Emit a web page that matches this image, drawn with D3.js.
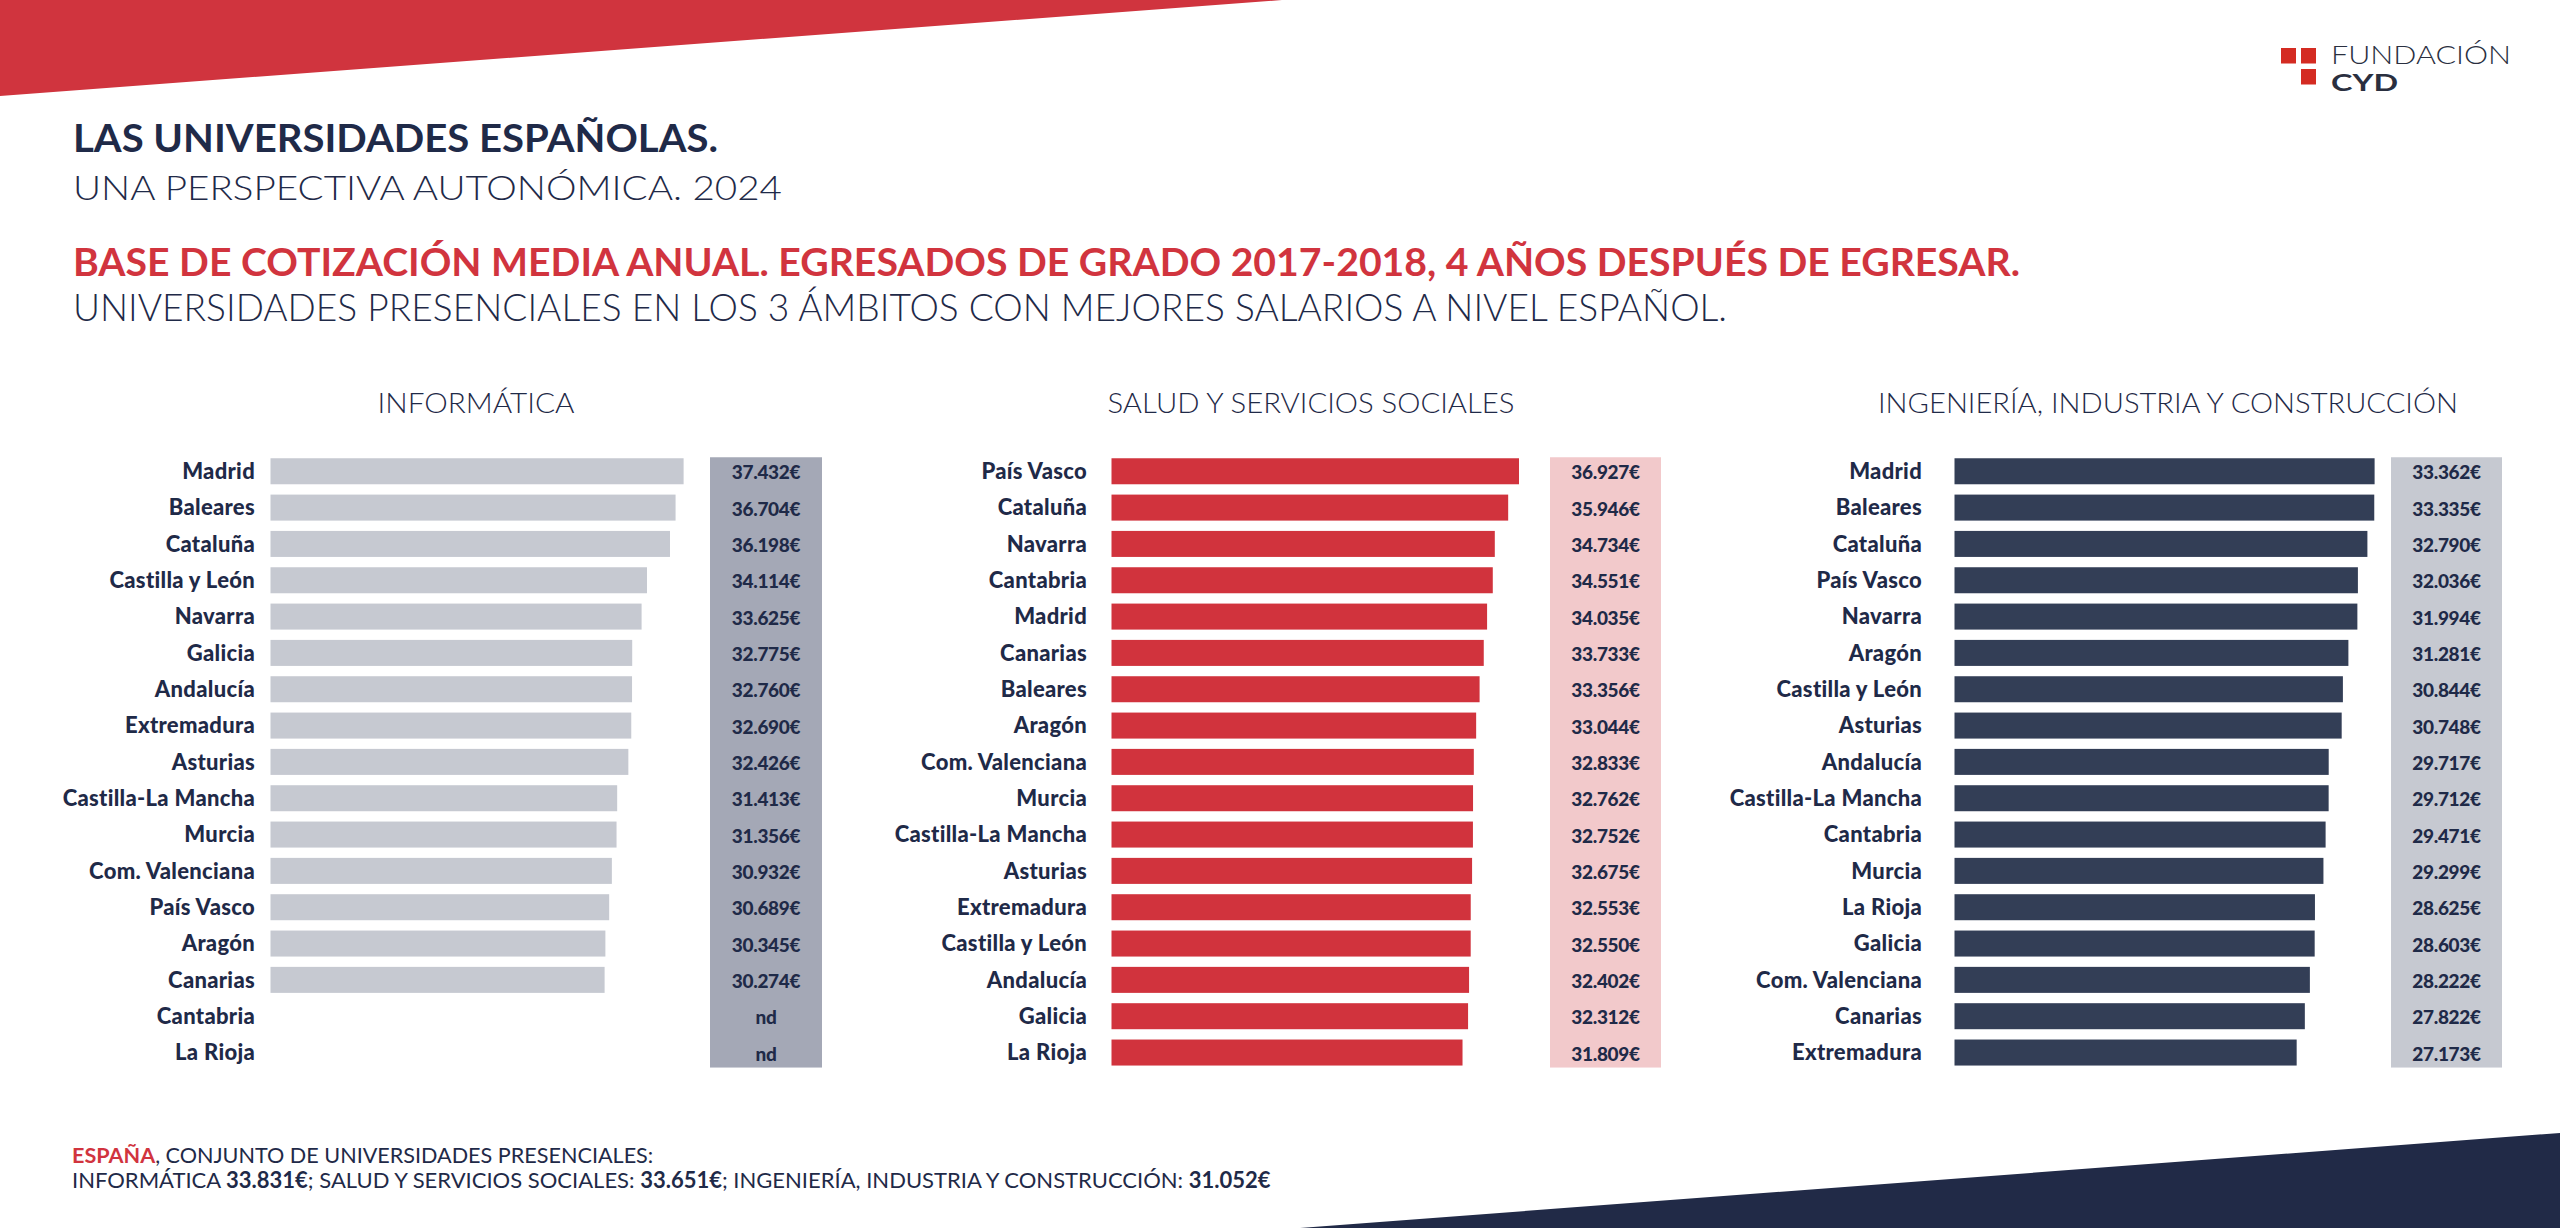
<!DOCTYPE html>
<html>
<head>
<meta charset="utf-8">
<script src="https://cdn.jsdelivr.net/npm/d3@7"></script>
<style>
  html, body { margin: 0; padding: 0; background: #ffffff; }
  svg { display: block; }
  text { font-family: Lato, "Open Sans", sans-serif; }
</style>
</head>
<body>
<svg id="chart" width="2560" height="1228"></svg>
<script>
// ---------- DATA ----------
const panelTitles = ["INFORMÁTICA", "SALUD Y SERVICIOS SOCIALES", "INGENIERÍA, INDUSTRIA Y CONSTRUCCIÓN"];

const infCategories = ["Madrid","Baleares","Cataluña","Castilla y León","Navarra","Galicia","Andalucía","Extremadura","Asturias","Castilla-La Mancha","Murcia","Com. Valenciana","País Vasco","Aragón","Canarias","Cantabria","La Rioja"];
const infValues = [37432,36704,36198,34114,33625,32775,32760,32690,32426,31413,31356,30932,30689,30345,30274,null,null];

const salCategories = ["País Vasco","Cataluña","Navarra","Cantabria","Madrid","Canarias","Baleares","Aragón","Com. Valenciana","Murcia","Castilla-La Mancha","Asturias","Extremadura","Castilla y León","Andalucía","Galicia","La Rioja"];
const salValues = [36927,35946,34734,34551,34035,33733,33356,33044,32833,32762,32752,32675,32553,32550,32402,32312,31809];

const ingCategories = ["Madrid","Baleares","Cataluña","País Vasco","Navarra","Aragón","Castilla y León","Asturias","Andalucía","Castilla-La Mancha","Cantabria","Murcia","La Rioja","Galicia","Com. Valenciana","Canarias","Extremadura"];
const ingValues = [33362,33335,32790,32036,31994,31281,30844,30748,29717,29712,29471,29299,28625,28603,28222,27822,27173];

const spainLabels = ["INFORMÁTICA", "SALUD Y SERVICIOS SOCIALES", "INGENIERÍA, INDUSTRIA Y CONSTRUCCIÓN"];
const spainValues = [33831, 33651, 31052];

// ---------- STYLE / LAYOUT ----------
const NAVY = "#1f2a48";
const RED = "#d1343e";
const svg = d3.select("#chart");

const locale = d3.formatLocale({decimal: ",", thousands: ".", grouping: [3], currency: ["", "€"]});
const fmt = v => v == null ? "nd" : locale.format(",")(v) + "€";

// background shapes
svg.append("polygon").attr("points", "0,0 1282,0 0,96").attr("fill", "#d0343e");
svg.append("polygon").attr("points", "1300,1228 2560,1133 2560,1228").attr("fill", "#212a47");

// logo
const logo = svg.append("g");
[[2281,48],[2301,48],[2301,69]].forEach(([x,y]) => {
  logo.append("rect").attr("x", x).attr("y", y).attr("width", 15).attr("height", 15.5).attr("fill", "#d42b22");
});
logo.append("text").attr("x", 2331).attr("y", 63.5).attr("font-size", 25.5).attr("font-weight", 300)
  .attr("fill", "#2a2f3f").attr("textLength", 180).attr("lengthAdjust", "spacingAndGlyphs").text("FUNDACIÓN");
logo.append("text").attr("x", 2331).attr("y", 91).attr("font-size", 22.5).attr("font-weight", 700)
  .attr("fill", "#2a2f3f").attr("textLength", 67).attr("lengthAdjust", "spacingAndGlyphs").text("CYD");

// headings
function heading(txt, x, y, size, weight, color, len) {
  svg.append("text").attr("x", x).attr("y", y).attr("font-size", size).attr("font-weight", weight)
    .attr("fill", color).attr("textLength", len).attr("lengthAdjust", "spacingAndGlyphs").text(txt);
}
heading("LAS UNIVERSIDADES ESPAÑOLAS.", 73, 152, 38, 700, NAVY, 645);
heading("UNA PERSPECTIVA AUTONÓMICA. 2024", 73, 200, 34, 300, NAVY, 709);
heading("BASE DE COTIZACIÓN MEDIA ANUAL. EGRESADOS DE GRADO 2017-2018, 4 AÑOS DESPUÉS DE EGRESAR.", 73, 276, 38, 700, RED, 1947);
heading("UNIVERSIDADES PRESENCIALES EN LOS 3 ÁMBITOS CON MEJORES SALARIOS A NIVEL ESPAÑOL.", 73, 321, 37, 300, NAVY, 1654);

// panels
const panels = [
  {cats: infCategories, vals: infValues, x0: 270.5, x1: 683.6, labelX: 255, boxX: 710, boxW: 112,
   bar: "#c6c9d1", box: "#a4a8b6", titleX: 476, titleW: 197},
  {cats: salCategories, vals: salValues, x0: 1111.5, x1: 1519, labelX: 1087, boxX: 1550, boxW: 111,
   bar: "#d1333d", box: "#f2c9cb", titleX: 1311, titleW: 407},
  {cats: ingCategories, vals: ingValues, x0: 1954.5, x1: 2374.6, labelX: 1922, boxX: 2391, boxW: 111,
   bar: "#333e56", box: "#c6c9d1", titleX: 2168, titleW: 580}
];

panels.forEach((p, i) => {
  const g = svg.append("g");
  const idx = d3.range(p.cats.length);
  const y = d3.scaleBand().domain(idx).range([453.1, 1070.7]).paddingInner(0.284).paddingOuter(0.142);
  const x = d3.scaleLinear().domain([0, d3.max(p.vals)]).range([p.x0, p.x1]);

  g.append("text").attr("x", p.titleX).attr("y", 413).attr("text-anchor", "middle")
    .attr("font-size", 28).attr("font-weight", 300).attr("fill", NAVY)
    .attr("textLength", p.titleW).attr("lengthAdjust", "spacingAndGlyphs").text(panelTitles[i]);

  // value box
  g.append("rect").attr("x", p.boxX).attr("y", y(0) - 1).attr("width", p.boxW)
    .attr("height", y(idx.length - 1) + y.bandwidth() + 2 - (y(0) - 1)).attr("fill", p.box);

  // bars
  g.selectAll("rect.bar").data(idx.filter(j => p.vals[j] != null)).join("rect")
    .attr("class", "bar")
    .attr("x", x(0)).attr("y", j => y(j))
    .attr("width", j => x(p.vals[j]) - x(0)).attr("height", y.bandwidth())
    .attr("fill", p.bar);

  // category labels
  g.selectAll("text.lab").data(idx).join("text")
    .attr("class", "lab")
    .attr("x", p.labelX).attr("y", j => y(j) + y.bandwidth() / 2 + 7.8)
    .attr("text-anchor", "end").attr("font-size", 22).attr("font-weight", 900).attr("fill", NAVY)
    .attr("letter-spacing", 0.3)
    .text(j => p.cats[j]);

  // values
  g.selectAll("text.val").data(idx).join("text")
    .attr("class", "val")
    .attr("x", p.boxX + p.boxW / 2).attr("y", j => y(j) + y.bandwidth() / 2 + 8.2)
    .attr("text-anchor", "middle").attr("font-size", 19).attr("font-weight", 900).attr("fill", NAVY)
    .attr("letter-spacing", -0.3)
    .text(j => fmt(p.vals[j]));
});

// footer
const f1 = svg.append("text").attr("x", 72).attr("y", 1163).attr("font-size", 21.6).attr("fill", NAVY);
f1.append("tspan").attr("font-weight", 700).attr("fill", RED).text("ESPAÑA");
f1.append("tspan").attr("font-weight", 400).text(", CONJUNTO DE UNIVERSIDADES PRESENCIALES:");

const f2 = svg.append("text").attr("x", 72).attr("y", 1188).attr("font-size", 22).attr("fill", NAVY);
spainLabels.forEach((lab, i) => {
  f2.append("tspan").attr("font-weight", 400).text((i > 0 ? "; " : "") + lab + (i > 0 ? ": " : " "));
  f2.append("tspan").attr("font-weight", 700).text(fmt(spainValues[i]));
});
</script>
</body>
</html>
